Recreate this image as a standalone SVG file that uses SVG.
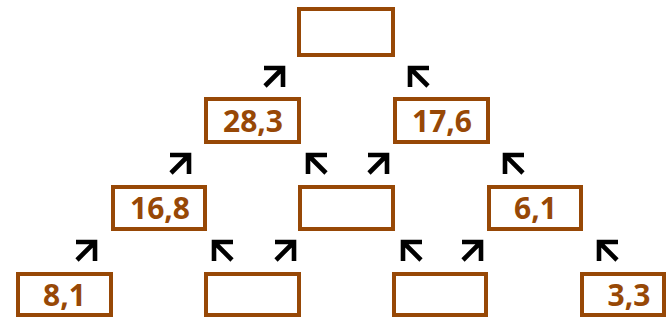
<svg xmlns="http://www.w3.org/2000/svg" xmlns:xlink="http://www.w3.org/1999/xlink" width="666" height="320" viewBox="0 0 666 320">
<style>
.box{fill:#ffffff;stroke:#974806;stroke-width:4}
.lbl{font-family:"Open Sans","Liberation Sans",sans-serif;font-weight:700;font-size:30px;fill:#974806;text-anchor:middle}
.arr{fill:none;stroke:#000000;stroke-width:4.6;stroke-linejoin:miter;stroke-linecap:butt}
</style>
<defs>
<path id="ne" class="arr" d="M-19,0 H0 V19 M0,0 L-18,18"/>
<path id="nw" class="arr" d="M19,0 H0 V19 M0,0 L18,18"/>
</defs>
<rect width="666" height="320" fill="#ffffff"/>
<g id="connectors">
<use xlink:href="#ne" x="283" y="68"/>
<use xlink:href="#nw" x="410" y="68"/>
<use xlink:href="#ne" x="189" y="155"/>
<use xlink:href="#nw" x="308" y="155"/>
<use xlink:href="#ne" x="387" y="155"/>
<use xlink:href="#nw" x="505" y="155"/>
<use xlink:href="#ne" x="95" y="242"/>
<use xlink:href="#nw" x="214" y="242"/>
<use xlink:href="#ne" x="294" y="242"/>
<use xlink:href="#nw" x="403" y="242"/>
<use xlink:href="#ne" x="481" y="242"/>
<use xlink:href="#nw" x="599" y="242"/>
</g>
<g id="n-top"><rect class="box" x="299" y="9" width="94" height="46"/></g>
<g id="n-28-3"><rect class="box" x="206" y="99" width="93" height="43"/><text class="lbl" x="253" y="132">28,3</text></g>
<g id="n-17-6"><rect class="box" x="395" y="99" width="93" height="43"/><text class="lbl" x="442" y="132">17,6</text></g>
<g id="n-16-8"><rect class="box" x="113" y="187" width="92" height="42"/><text class="lbl" x="160" y="219">16,8</text></g>
<g id="n-mid"><rect class="box" x="300" y="187" width="93" height="42"/></g>
<g id="n-6-1"><rect class="box" x="489" y="187" width="92" height="42"/><text class="lbl" x="535.5" y="219">6,1</text></g>
<g id="n-8-1"><rect class="box" x="18" y="274" width="93" height="41"/><text class="lbl" x="64.5" y="306">8,1</text></g>
<g id="n-b2"><rect class="box" x="206" y="274" width="93" height="41"/></g>
<g id="n-b3"><rect class="box" x="394" y="274" width="92" height="41"/></g>
<g id="n-3-3"><rect class="box" x="582" y="274" width="82" height="41"/><text class="lbl" x="629" y="306">3,3</text></g>
</svg>
